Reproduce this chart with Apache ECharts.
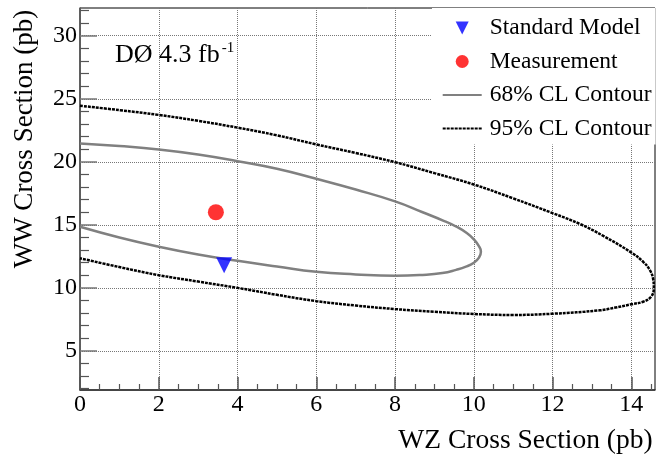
<!DOCTYPE html>
<html>
<head>
<meta charset="utf-8">
<title>WW vs WZ cross section</title>
<script src="https://cdn.jsdelivr.net/npm/echarts@6/dist/echarts.min.js"></script>
<style>
  html, body { margin: 0; padding: 0; background: #fff; }
</style>
</head>
<body>
<div id="main" style="width:659px;height:456px"></div>
<script>
// contours, [WZ, WW] in pb, traced clockwise from the top left
const contour68 = [
  [0, 21.45], [1, 21.25], [2, 20.98], [3, 20.58], [4, 20.05], [5, 19.45],
  [6, 18.65], [7, 17.8], [8, 16.86], [8.7, 16.0], [9.25, 15.3], [9.56, 14.85],
  [9.82, 14.35], [10.0, 13.85], [10.12, 13.35], [10.18, 12.87], [10.13, 12.4],
  [10.0, 12.0], [9.8, 11.68], [9.55, 11.43], [9.2, 11.18], [8.7, 11.03],
  [8, 10.96], [7, 11.07], [6, 11.28], [5, 11.7], [4, 12.15], [3, 12.65],
  [2, 13.27], [1, 14.0], [0, 14.85]
];
const contour95 = [
  [0, 24.45], [1, 24.1], [2, 23.72], [3, 23.25], [4, 22.71], [5, 22.1],
  [6, 21.38], [7, 20.7], [8, 19.97], [9, 19.1], [10, 18.2], [11, 17.1],
  [12, 15.93], [12.7, 15.06], [13.3, 14.1], [14.0, 12.8], [14.3, 12.07],
  [14.47, 11.41], [14.55, 10.75], [14.57, 9.95], [14.5, 9.3], [14.3, 8.9],
  [14.0, 8.7], [13.6, 8.44], [13.2, 8.22], [12, 7.95], [11, 7.85], [10, 7.93],
  [9, 8.1], [8, 8.32], [7, 8.6], [6, 8.95], [5, 9.45], [4, 10.0], [3, 10.5],
  [2, 11.01], [1, 11.65], [0, 12.35]
];
const measurement = [[3.45, 16.0]];
const standardModel = [[3.66, 11.8]];

const xMajorTicks = [0, 2, 4, 6, 8, 10, 12, 14];
const xMinorTicks = [0.5, 1, 1.5, 2.5, 3, 3.5, 4.5, 5, 5.5, 6.5, 7, 7.5, 8.5, 9, 9.5,
  10.5, 11, 11.5, 12.5, 13, 13.5, 14.5];
const yMajorTicks = [5, 10, 15, 20, 25, 30];
const yMinorTicks = [2, 3, 4, 6, 7, 8, 9, 11, 12, 13, 14, 16, 17, 18, 19, 21, 22, 23, 24,
  26, 27, 28, 29, 31, 32];

const serif = "'Liberation Serif', 'Times New Roman', serif";
const xRange = [0, 14.6];
const yRange = [1.9, 32.2];

const chart = echarts.init(document.getElementById('main'));

const gridLine = { show: true, lineStyle: { color: '#777', type: 'dotted', width: 1 } };

const option = {
  backgroundColor: '#fff',
  animation: false,
  textStyle: { fontFamily: serif, fontWeight: 'normal', color: '#000' },
  title: {
    left: 115,
    top: 41,
    padding: 0,
    text: '{a|DØ 4.3 fb}{b|-1}',
    textStyle: {
      fontWeight: 'normal',
      rich: {
        a: { fontFamily: serif, fontWeight: 'normal', fontSize: 26, color: '#000', lineHeight: 29 },
        b: { fontFamily: serif, fontWeight: 'normal', fontSize: 15, color: '#000', verticalAlign: 'top', lineHeight: 15, padding: [0, 0, 0, 2] }
      }
    }
  },
  grid: {
    left: 80, top: 8, right: 4, bottom: 66,
    show: true, borderColor: '#000', borderWidth: 1, backgroundColor: '#fff',
    outerBoundsMode: 'none'
  },
  legend: {
    orient: 'vertical',
    left: 432, top: 8,
    padding: [8, 4, 4, 9.7],
    backgroundColor: '#fff',
    itemWidth: 39, itemHeight: 13, itemGap: 9.5,
    textStyle: { fontFamily: serif, fontSize: 23.5, color: '#000', lineHeight: 24, padding: [0, 0, 0, 3] },
    data: [
      { name: 'Standard Model', icon: 'path://M0,0L10,0L5,10Z' },
      { name: 'Measurement', icon: 'circle' },
      { name: '68% CL Contour', itemStyle: { opacity: 0 } },
      { name: '95% CL Contour', itemStyle: { opacity: 0 } }
    ]
  },
  xAxis: [
    {
      type: 'value', min: xRange[0], max: xRange[1], position: 'bottom',
      name: 'WZ Cross Section (pb)', nameLocation: 'middle', nameGap: 37,
      nameTextStyle: { fontFamily: serif, fontSize: 27.5, color: '#000', padding: [0, 0, 0, 316] },
      axisLine: { lineStyle: { color: '#333', width: 1.5 } },
      axisTick: { inside: true, length: 13, customValues: xMajorTicks, lineStyle: { color: '#555', width: 1.5 } },
      axisLabel: { customValues: xMajorTicks, margin: 3, fontFamily: serif, fontSize: 24, color: '#000' },
      splitLine: gridLine
    },
    {
      type: 'value', min: xRange[0], max: xRange[1], position: 'bottom',
      axisLine: { show: false },
      axisTick: { inside: true, length: 6, customValues: xMinorTicks, lineStyle: { color: '#555', width: 1.2 } },
      axisLabel: { show: false },
      splitLine: { show: false }
    }
  ],
  yAxis: [
    {
      type: 'value', min: yRange[0], max: yRange[1], position: 'left',
      name: 'WW Cross Section (pb)', nameLocation: 'middle', nameGap: 42, nameRotate: 90,
      nameTextStyle: { fontFamily: serif, fontSize: 27, color: '#000', padding: [0, 0, 0, 120] },
      axisLine: { lineStyle: { color: '#555', width: 1.5 } },
      axisTick: { inside: true, length: 17, customValues: yMajorTicks, lineStyle: { color: '#777', width: 1.5 } },
      axisLabel: { customValues: yMajorTicks, margin: 3, fontFamily: serif, fontSize: 24, color: '#000' },
      splitLine: gridLine
    },
    {
      type: 'value', min: yRange[0], max: yRange[1], position: 'left',
      axisLine: { show: false },
      axisTick: { inside: true, length: 9, customValues: yMinorTicks, lineStyle: { color: '#555', width: 1.2 } },
      axisLabel: { show: false },
      splitLine: { show: false }
    }
  ],
  series: [
    {
      name: '68% CL Contour', type: 'line', data: contour68,
      symbol: 'none', smooth: 0.5, z: 2,
      lineStyle: { color: '#808080', width: 2.5 }, itemStyle: { color: '#808080' }
    },
    {
      name: '95% CL Contour', type: 'line', data: contour95,
      symbol: 'none', smooth: 0.4, z: 2,
      lineStyle: { color: '#000', width: 2.5, type: [3, 1] }, itemStyle: { color: '#000' }
    },
    {
      name: 'Measurement', type: 'scatter', data: measurement,
      symbol: 'circle', symbolSize: 16, z: 3,
      itemStyle: { color: '#ff0000' }
    },
    {
      name: 'Standard Model', type: 'scatter', data: standardModel,
      symbol: 'path://M0,0L10,0L5,10Z', symbolSize: 16, z: 3,
      itemStyle: { color: '#0000ff' }
    }
  ]
};

chart.setOption(option);
</script>
</body>
</html>
